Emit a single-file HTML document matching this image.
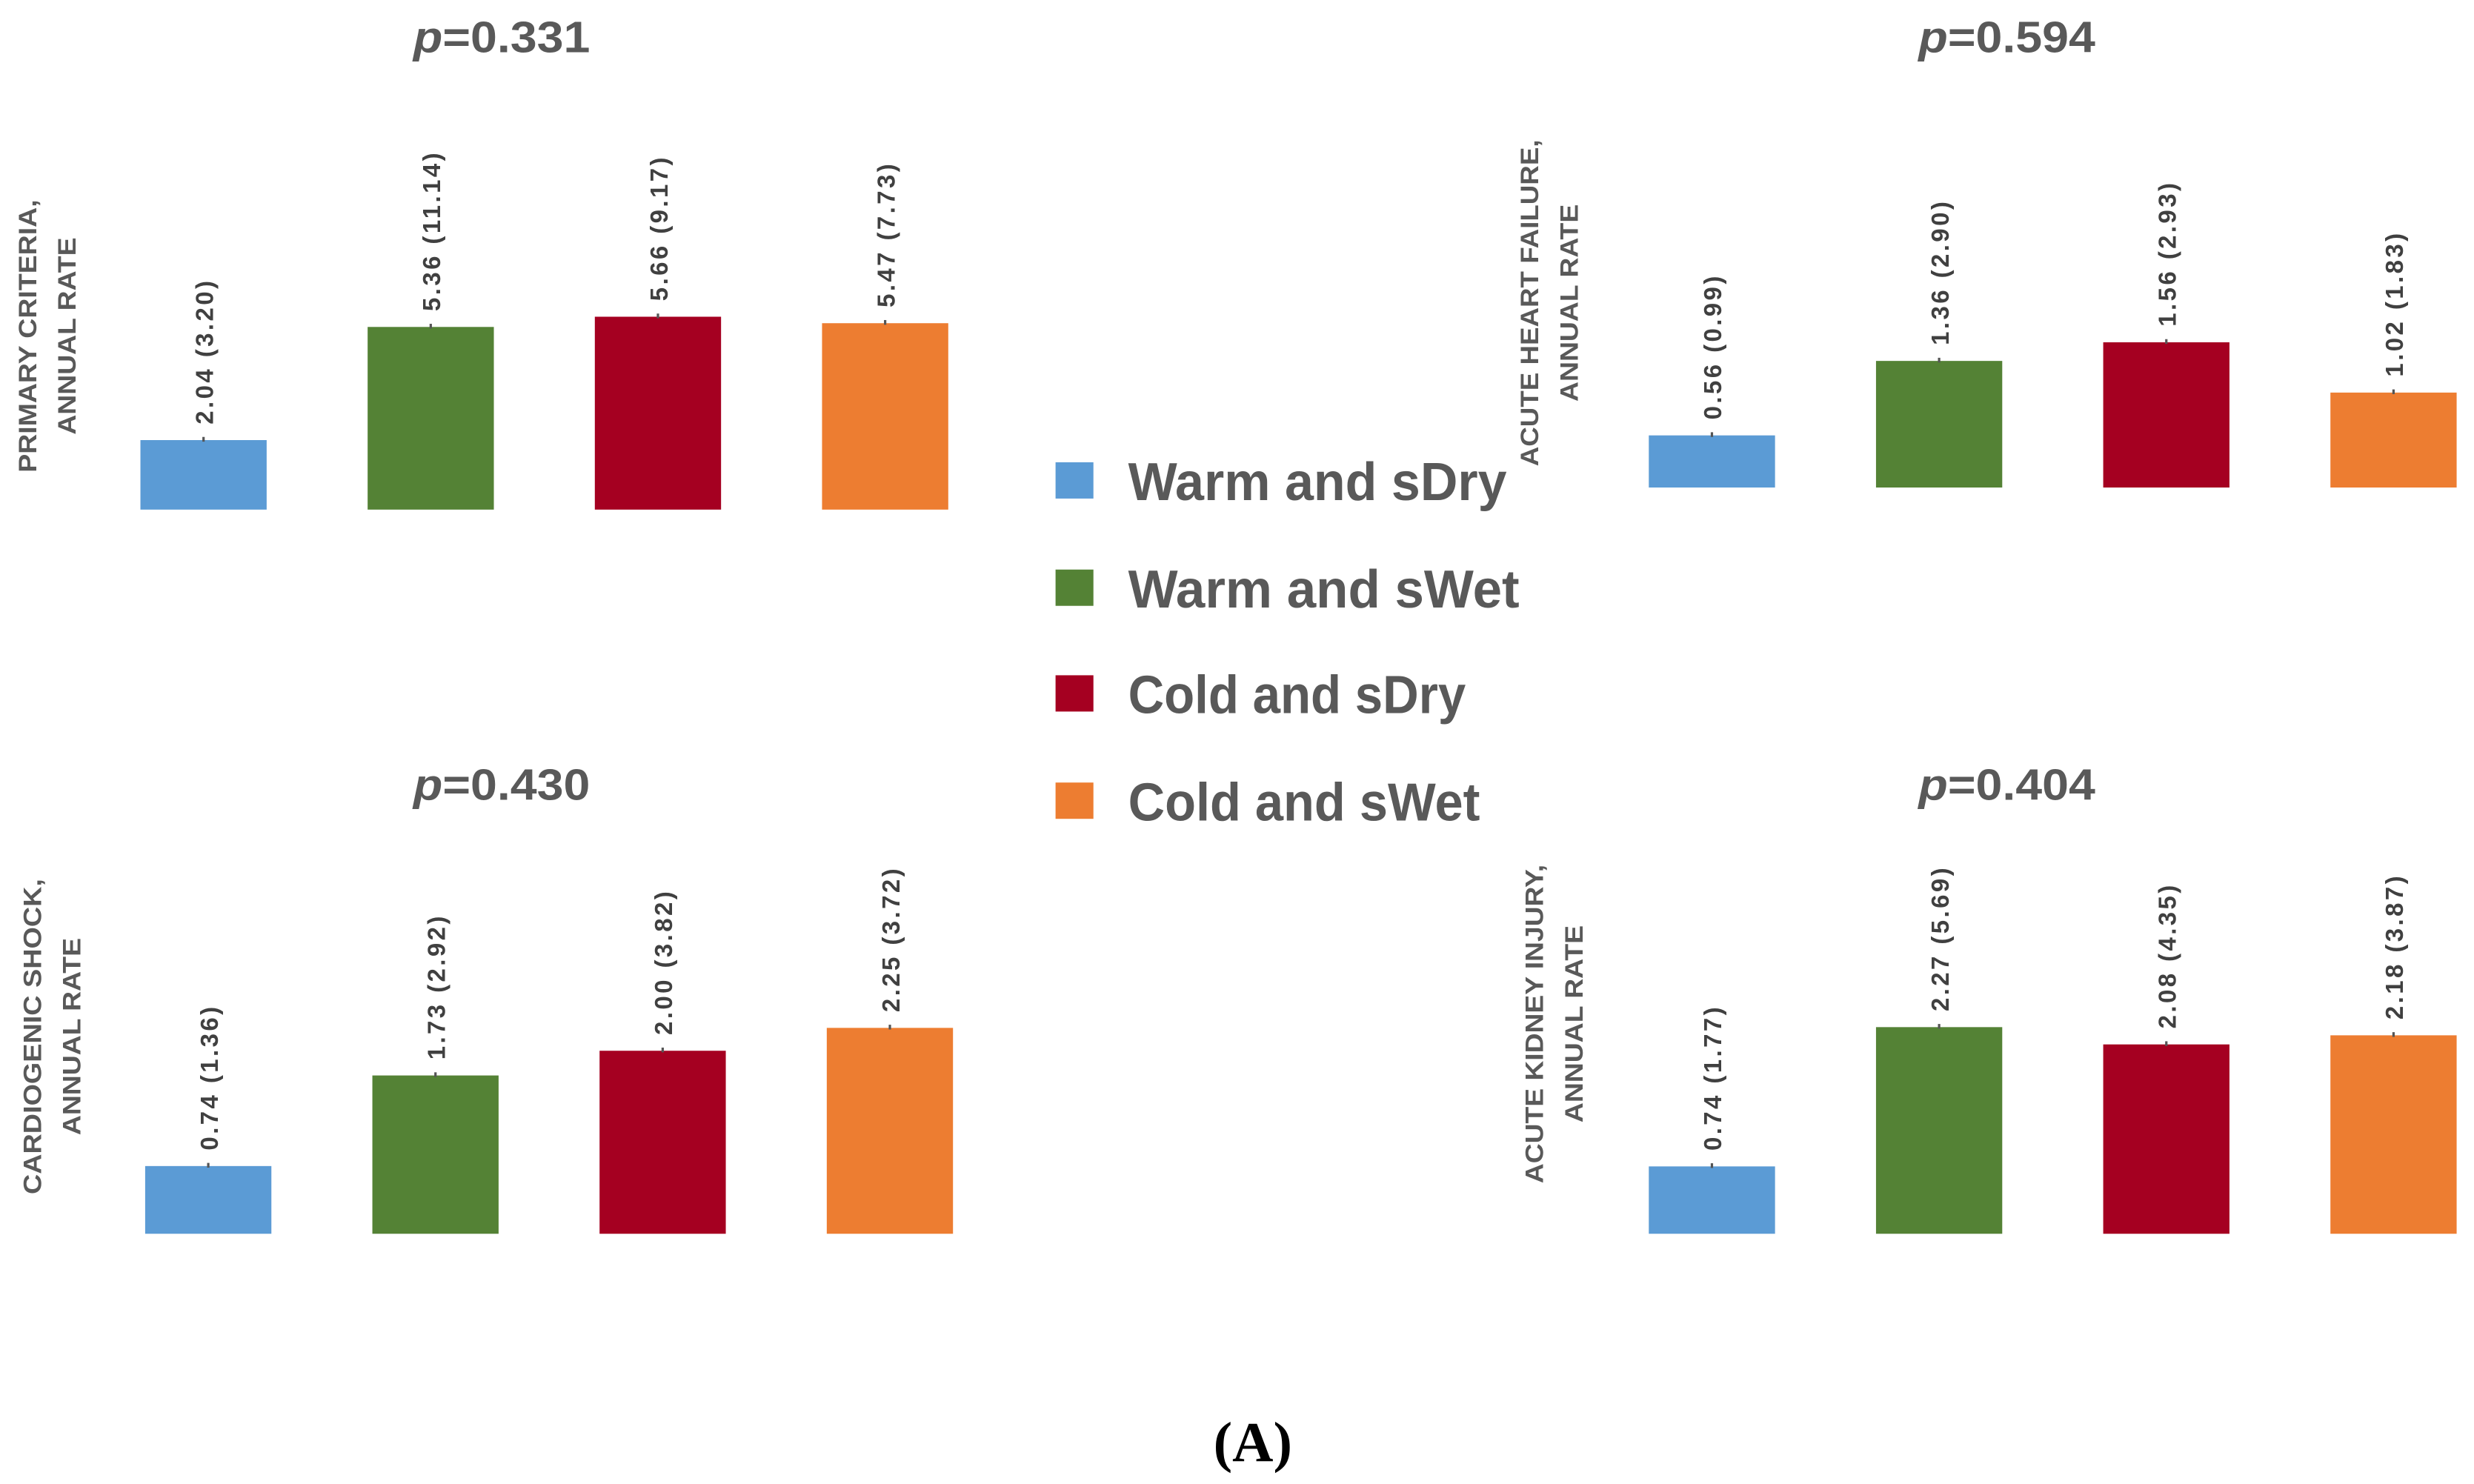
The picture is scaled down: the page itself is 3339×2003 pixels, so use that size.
<!DOCTYPE html>
<html><head><meta charset="utf-8"><style>
html,body{margin:0;padding:0;background:#fff;}
svg{display:block;}
</style></head><body>
<svg id="chart" xmlns="http://www.w3.org/2000/svg" width="3339" height="2003" viewBox="0 0 1568 940.6">
<rect x="0" y="0" width="1568" height="940.6" fill="#fff"/>
<g id="panels"></g>
<g id="legend"></g>
<text x="794" y="926" text-anchor="middle" font-family="Liberation Serif, serif" font-weight="bold" font-size="36" fill="#000">(A)</text>
</svg>
<script>
const categories = ["Warm and sDry", "Warm and sWet", "Cold and sDry", "Cold and sWet"];
const colors = ["#5B9BD5", "#548235", "#A50021", "#ED7D31"];
const pValues = ["0.331", "0.594", "0.430", "0.404"];
const titlesLine1 = ["PRIMARY CRITERIA,", "ACUTE HEART FAILURE,", "CARDIOGENIC SHOCK,", "ACUTE KIDNEY INJURY,"];
const titlesLine2 = ["ANNUAL RATE", "ANNUAL RATE", "ANNUAL RATE", "ANNUAL RATE"];
const primaryMeans = [2.04, 5.36, 5.66, 5.47];
const primarySD = ["3.20", "11.14", "9.17", "7.73"];
const ahfMeans = [0.56, 1.36, 1.56, 1.02];
const ahfSD = ["0.99", "2.90", "2.93", "1.83"];
const csMeans = [0.74, 1.73, 2.00, 2.25];
const csSD = ["1.36", "2.92", "3.82", "3.72"];
const akiMeans = [0.74, 2.27, 2.08, 2.18];
const akiSD = ["1.77", "5.69", "4.35", "3.87"];

const NS = "http://www.w3.org/2000/svg";
function mk(tag, attrs, parent){const e=document.createElementNS(NS,tag);for(const k in attrs)e.setAttribute(k,attrs[k]);parent.appendChild(e);return e;}

const layouts = [
  {means: primaryMeans, sd: primarySD, x0: 89, base: 323, unit: 21.6, px: 318, py: 33, tx: 23, ty: 213, l1: 173},
  {means: ahfMeans, sd: ahfSD, x0: 1045, base: 309, unit: 59, px: 1272, py: 33, tx: 975, ty: 192, l1: 207},
  {means: csMeans, sd: csSD, x0: 92, base: 782, unit: 58, px: 318, py: 507, tx: 26, ty: 657, l1: 200},
  {means: akiMeans, sd: akiSD, x0: 1045, base: 782, unit: 57.7, px: 1272, py: 507, tx: 978, ty: 649, l1: 202}
];
const panelsG = document.getElementById('panels');
layouts.forEach((L, pi) => {
  const g = mk('g', {}, panelsG);
  
  
  const yScale = v => L.base - v * L.unit;
  const xScale = i => L.x0 + i * 144;
  const pt = mk('text', {x: L.px, y: L.py, 'text-anchor': 'middle', 'font-family': 'Liberation Sans Narrow, Liberation Sans, sans-serif', 'font-weight': 'bold', 'font-size': 28, fill: '#595959', textLength: 112, lengthAdjust: 'spacingAndGlyphs'}, g);
  
  
  const ts = mk('tspan', {'font-style': 'italic'}, pt); ts.textContent = 'p';
  const ts2 = mk('tspan', {}, pt); ts2.textContent = '=' + pValues[pi];
  const yt = mk('text', {transform: `translate(${L.tx},${L.ty}) rotate(-90)`, 'text-anchor': 'middle', 'font-family': 'Liberation Sans, sans-serif', 'font-weight': 'bold', 'font-size': 16, fill: '#595959'}, g);
  
  
  const t1 = mk('tspan', {x: 0, y: 0, textLength: L.l1, lengthAdjust: 'spacingAndGlyphs'}, yt); t1.textContent = titlesLine1[pi];
  const t2 = mk('tspan', {x: 0, y: 25, textLength: 125, lengthAdjust: 'spacingAndGlyphs'}, yt); t2.textContent = titlesLine2[pi];
  L.means.forEach((v, i) => {
    const x = xScale(i), y = yScale(v);
    const r = mk('rect', {x: x, y: y, width: 80, height: L.base - y, fill: colors[i]}, g);
    
    
    const tick = mk('line', {x1: x+40, x2: x+40, y1: y-2, y2: y+1, stroke: '#555', 'stroke-width': 1.5}, g);
    
    
    const lbl = mk('text', {transform: `translate(${x+46},${y-10}) rotate(-90)`, 'font-family': 'Liberation Sans, sans-serif', 'font-weight': 'bold', 'font-size': 15.5, 'letter-spacing': 1.6, fill: '#404040'}, g);
    
    
    lbl.textContent = v.toFixed(2) + ' (' + L.sd[i] + ')';
  });
});
const legendG = document.getElementById('legend');
const legendY = [305, 373, 440, 508];
const legendW = [240, 248, 214, 223];
categories.forEach((c, i) => {
  const e = mk('g', {}, legendG);
  
  
  mk('rect', {x: 669, y: legendY[i]-12, width: 24, height: 23, fill: colors[i]}, e);
  const t = mk('text', {x: 715, y: legendY[i]+12, 'font-family': 'Liberation Sans Narrow, Liberation Sans, sans-serif', 'font-weight': 'bold', 'font-size': 34, fill: '#595959', textLength: legendW[i], lengthAdjust: 'spacingAndGlyphs'}, e);
  t.textContent = c;
});
</script>
</body></html>
